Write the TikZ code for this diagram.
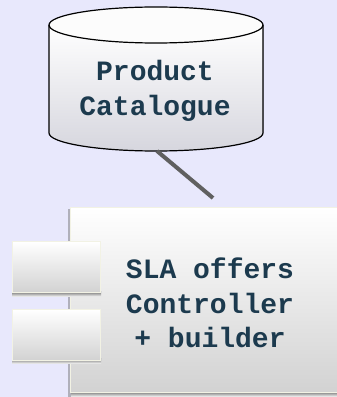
\documentclass[tikz,border=0pt]{standalone}
\usepackage{fontspec}
\setmonofont{Liberation Mono}
\definecolor{bg}{HTML}{E8E8FC}
\definecolor{txt}{HTML}{1C3A4E}
\definecolor{boxedge}{HTML}{F2F2E4}
\definecolor{shade}{HTML}{8E8E9E}
\definecolor{cylbot}{HTML}{D6D6DE}
\definecolor{boxbot}{HTML}{D2D2D2}
\definecolor{linkc}{HTML}{606060}
\begin{document}
\begin{tikzpicture}[x=1pt,y=1pt,
  label/.style={font=\ttfamily\bfseries\fontsize{28}{34.5}\selectfont, text=txt, align=center, inner sep=0pt},
  port/.style={draw=boxedge, line width=1.2pt, top color=white, bottom color=boxbot, minimum width=88pt, minimum height=51pt, inner sep=0pt}]
\fill[bg] (0,0) rectangle (337,397);
\useasboundingbox (0,0) rectangle (337,397);
% cylinder
\fill[top color=white, bottom color=cylbot] (49,372) -- (49,264) arc[start angle=180,end angle=360,x radius=107,y radius=18] -- (263,372) -- cycle;
\fill[white!98!gray] (156,372) ellipse[x radius=107,y radius=18];
\draw[line width=1.2pt] (49,372) -- (49,264) arc[start angle=180,end angle=360,x radius=107,y radius=18] -- (263,372);
\draw[line width=1.2pt] (156,372) ellipse[x radius=107,y radius=18];
\node[label] (cat) at (155,306) {Product\\Catalogue};
\coordinate (catb) at (157,246);
% component
\fill[shade] (68,0) rectangle (340,5);
\fill[shade!70!white] (68,0) rectangle (70.5,188);
\node[draw=boxedge, line width=1.2pt, top color=white, bottom color=boxbot, anchor=north west, minimum width=272pt, minimum height=185pt, inner sep=0pt] (comp) at (70,190) {};
\fill[shade] (12,100) rectangle (101,105);
\node[port, anchor=north west] (p1) at (12,156) {};
\fill[shade] (12,33) rectangle (101,38);
\node[port, anchor=north west] (p2) at (12,88) {};
\node[label] (ctl) at (210,94) {SLA offers\\Controller\\+ builder};
\coordinate (compt) at (213,199);
\draw[linkc, line width=4pt] (catb) -- (compt);
\end{tikzpicture}
\end{document}
